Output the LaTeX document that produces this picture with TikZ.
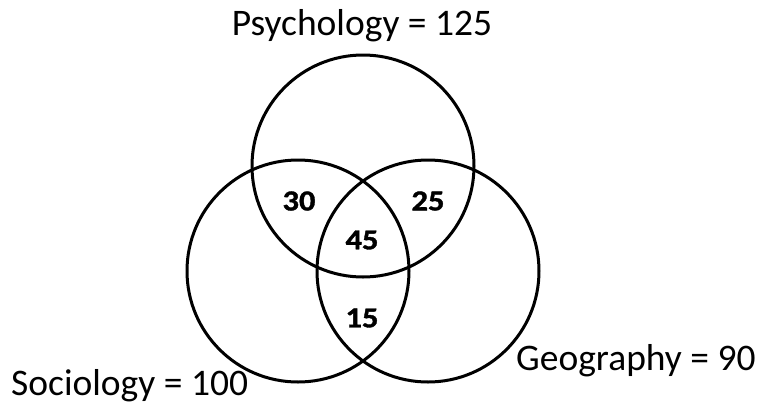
\documentclass[tikz,border=0pt]{standalone}
\usepackage{fontspec}
\setmainfont{Carlito}
\newfontfamily\countfont{Carlito}[UprightFont={* Bold},FakeBold=1.2]
\usepackage{tikz}
\tikzset{setcirc/.style={circle,draw=black,line width=3pt,minimum size=222pt,inner sep=0pt},
  setlabel/.style={inner sep=0pt,font=\fontsize{37.5}{44}\selectfont},
  count/.style={inner sep=0pt,xscale=1.12,transform shape,font=\fontsize{29}{34}\selectfont\countfont}}

\begin{document}
\begin{tikzpicture}[x=1pt,y=-1pt]
\useasboundingbox (0,0) rectangle (764,408);

% ============ the three sets ============
\node[setcirc] (psy) at (363,166) {};
\node[setcirc] (soc) at (298,271) {};
\node[setcirc] (geo) at (428,271) {};

% ============ set names ============
\node[setlabel,anchor=base] (psylab) at (362,35) {Psychology = 125};
\node[setlabel,anchor=base west] (soclab) at (11,395) {Sociology = 100};
\node[setlabel,anchor=base west] (geolab) at (516,370) {Geography = 90};

% ============ overlaps ============
\node[count] (psysoc) at (299,201) {30};
\node[count] (psygeo) at (428,201) {25};
\node[count] (all) at (362,240) {45};
\node[count] (socgeo) at (362,318) {15};

\end{tikzpicture}
\end{document}
